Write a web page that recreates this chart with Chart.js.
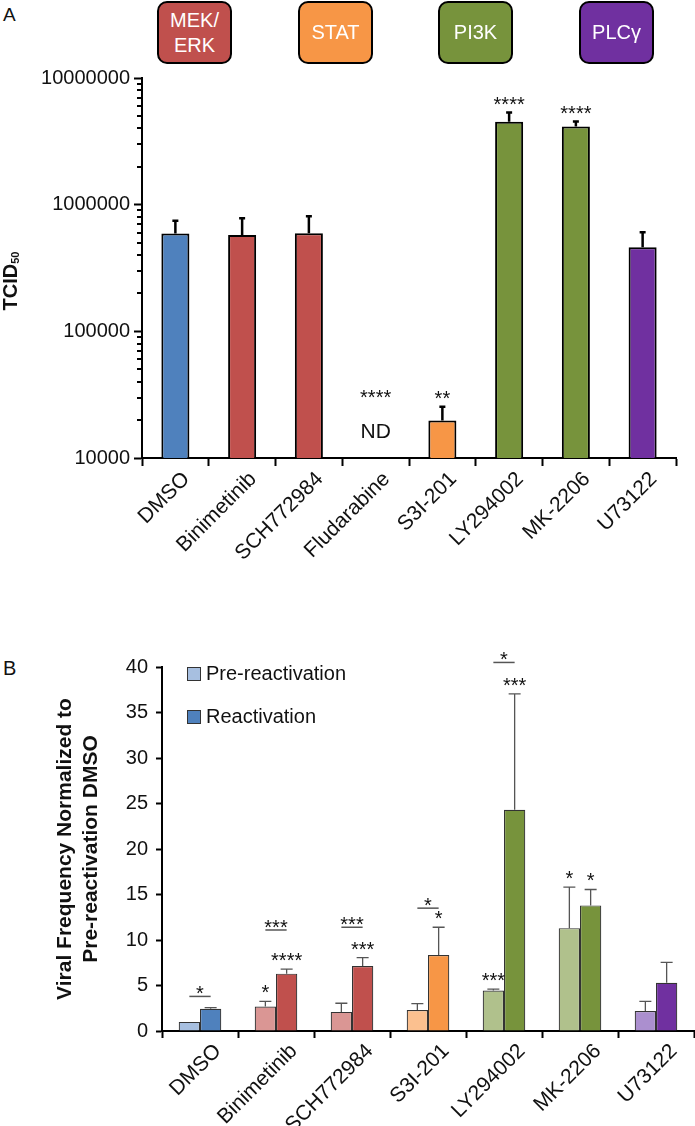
<!DOCTYPE html>
<html>
<head>
<meta charset="utf-8">
<script src="https://cdn.jsdelivr.net/npm/chart.js@4.4.1/dist/chart.umd.min.js"></script>
<style>
  body { margin: 0; background: #fff; font-family: "Liberation Sans", Arial, sans-serif; }
  #page { position: relative; width: 695px; height: 1126px; overflow: hidden; }
  #wrapA { position: absolute; left: 0; top: 0; }
  #wrapB { position: absolute; left: 0; top: 560px; }
  .panel { position: absolute; font-size: 19px; color: #111; }
  .box { position: absolute; top: 1px; width: 75px; height: 63px; box-sizing: border-box;
         border: 2.5px solid #000; border-radius: 10px; color: #fff; font-size: 20px;
         display: flex; align-items: center; justify-content: center; text-align: center; line-height: 25px; }
  .leg { position: absolute; left: 187px; font-size: 20px; color: #111; height: 14px; }
  .leg span.sw { position: absolute; left: 0; top: 0; width: 12px; height: 12px; border: 1px solid #333; }
  .leg span.tx { position: absolute; left: 19px; top: -5px; white-space: nowrap; }
</style>
</head>
<body>
<div id="page">
  <div class="panel" style="left:3px; top:4px;">A</div>
  <div class="panel" style="left:3px; top:657px; font-size:20px;">B</div>
  <div id="wrapA"><canvas id="chartA" width="695" height="560"></canvas></div>
  <div id="wrapB"><canvas id="chartB" width="695" height="566"></canvas></div>
  <div id="boxes"></div>
  <div id="legendB"></div>
</div>
<script>
// panel A data
var categoriesA = ['DMSO', 'Binimetinib', 'SCH772984', 'Fludarabine', 'S3I-201', 'LY294002', 'MK-2206', 'U73122'];
var tcid50 = [592000, 577000, 595000, null, 19800, 4510000, 4140000, 461000];
var tcid50Err = [156000, 203000, 214000, null, 5600, 820000, 390000, 144000];
var starsA = ['', '', '', '****', '**', '****', '****', ''];
var yTicksA = [10000, 100000, 1000000, 10000000];
var colorsA = ['#4f81bd', '#c0504d', '#c0504d', '#f79646', '#f79646', '#77933c', '#77933c', '#7030a0'];

var pathways = ['MEK/<br>ERK', 'STAT', 'PI3K', 'PLCγ'];
var pathwayColors = ['#c0504d', '#f79646', '#77933c', '#7030a0'];
var pathwayLeft = [157, 298, 438, 579];

// panel B data
var categoriesB = ['DMSO', 'Binimetinib', 'SCH772984', 'S3I-201', 'LY294002', 'MK-2206', 'U73122'];
var preReact = [1.0, 2.7, 2.1, 2.3, 4.45, 11.3, 2.2];
var preReactErr = [0, 0.55, 0.95, 0.7, 0.15, 4.5, 1.05];
var react = [2.45, 6.3, 7.15, 8.35, 24.3, 13.8, 5.3];
var reactErr = [0.12, 0.5, 0.92, 3.05, 12.75, 1.75, 2.25];
var preStars = ['', '*', '', '', '***', '*', ''];
var reactStars = ['', '****', '***', '*', '***', '*', ''];
var pairStars = ['*', '***', '***', '*', '*', '', ''];
var pairLevel = [3.8, 11.1, 11.4, 13.5, 40.5, null, null];
var yTicksB = [0, 5, 10, 15, 20, 25, 30, 35, 40];
var preColors = ['#a7bfe0', '#da9694', '#da9694', '#fbc08f', '#b0c18c', '#b0c18c', '#ab8fcf'];
var reactColors = ['#4f81bd', '#c0504d', '#c0504d', '#f79646', '#77933c', '#77933c', '#7030a0'];

var FONT = '"Liberation Sans", Arial, sans-serif';
Chart.defaults.font.family = FONT;
Chart.defaults.color = '#111';

// pathway boxes
var boxes = document.getElementById('boxes');
pathways.forEach(function (p, i) {
    var d = document.createElement('div');
    d.className = 'box';
    d.style.left = pathwayLeft[i] + 'px';
    d.style.background = pathwayColors[i];
    d.innerHTML = p;
    boxes.appendChild(d);
});

// legend B
var legendB = document.getElementById('legendB');
[['Pre-reactivation', preColors[0], 667], ['Reactivation', reactColors[0], 710]].forEach(function (l) {
    var d = document.createElement('div');
    d.className = 'leg';
    d.style.top = l[2] + 'px';
    d.innerHTML = '<span class="sw" style="background:' + l[1] + '"></span><span class="tx">' + l[0] + '</span>';
    legendB.appendChild(d);
});

function drawErrors(chart, dsIndex, errs, color, lw, cap) {
    var ctx = chart.ctx;
    var y = chart.scales.y;
    var meta = chart.getDatasetMeta(dsIndex);
    var vals = chart.data.datasets[dsIndex].data;
    ctx.save();
    ctx.strokeStyle = color;
    ctx.lineWidth = lw;
    meta.data.forEach(function (bar, i) {
        if (vals[i] == null || !errs[i]) return;
        var y0 = y.getPixelForValue(vals[i]);
        var y1 = y.getPixelForValue(vals[i] + errs[i]);
        ctx.beginPath();
        ctx.moveTo(bar.x, y0);
        ctx.lineTo(bar.x, y1);
        ctx.moveTo(bar.x - cap, y1);
        ctx.lineTo(bar.x + cap, y1);
        ctx.stroke();
    });
    ctx.restore();
}

function drawStars(chart, dsIndex, errs, stars) {
    var ctx = chart.ctx;
    var y = chart.scales.y;
    var meta = chart.getDatasetMeta(dsIndex);
    var vals = chart.data.datasets[dsIndex].data;
    ctx.save();
    ctx.font = '20px ' + FONT;
    ctx.fillStyle = '#111';
    ctx.textAlign = 'center';
    ctx.textBaseline = 'alphabetic';
    meta.data.forEach(function (bar, i) {
        if (!stars[i] || vals[i] == null) return;
        var yt = y.getPixelForValue(vals[i] + (errs[i] || 0));
        ctx.fillText(stars[i], bar.x, yt - 2);
    });
    ctx.restore();
}

var pluginA = {
    id: 'extrasA',
    afterDraw: function (chart) {
        var ctx = chart.ctx;
        var y = chart.scales.y;
        var x = chart.scales.x;
        var left = chart.chartArea.left;
        // minor ticks on log axis
        ctx.save();
        ctx.strokeStyle = '#000';
        ctx.lineWidth = 2;
        y.ticks.forEach(function (t) {
            if (yTicksA.indexOf(t.value) >= 0) return;
            var py = Math.round(y.getPixelForValue(t.value));
            ctx.beginPath();
            ctx.moveTo(left - 5, py);
            ctx.lineTo(left, py);
            ctx.stroke();
        });
        ctx.restore();
        drawErrors(chart, 0, tcid50Err, '#000', 2.5, 3);
        drawStars(chart, 0, tcid50Err, starsA);
        // ND category
        ctx.save();
        ctx.fillStyle = '#111';
        ctx.textAlign = 'center';
        tcid50.forEach(function (v, i) {
            if (v != null) return;
            var cx = x.getPixelForValue(i);
            ctx.font = '20px ' + FONT;
            ctx.fillText(starsA[i], cx, y.getPixelForValue(32000) + 10);
            ctx.font = '21px ' + FONT;
            ctx.textBaseline = 'middle';
            ctx.fillText('ND', cx, y.getPixelForValue(16000));
            ctx.textBaseline = 'alphabetic';
        });
        ctx.restore();
        // axis title TCID50
        ctx.save();
        ctx.translate(17, (chart.chartArea.top + chart.chartArea.bottom) / 2 + 13);
        ctx.rotate(-Math.PI / 2);
        ctx.fillStyle = '#111';
        ctx.font = 'bold 20px ' + FONT;
        var w1 = ctx.measureText('TCID').width;
        ctx.font = 'bold 11px ' + FONT;
        var w2 = ctx.measureText('50').width;
        var sx = -(w1 + w2) / 2;
        ctx.font = 'bold 20px ' + FONT;
        ctx.fillText('TCID', sx, 0);
        ctx.font = 'bold 11px ' + FONT;
        ctx.fillText('50', sx + w1, 2);
        ctx.restore();
    }
};

var chartA = new Chart(document.getElementById('chartA').getContext('2d'), {
    type: 'bar',
    data: {
        labels: categoriesA,
        datasets: [{
            data: tcid50,
            backgroundColor: colorsA,
            borderColor: '#000',
            borderWidth: 2,
            barPercentage: 0.42,
            categoryPercentage: 1
        }]
    },
    options: {
        responsive: false,
        animation: false,
        layout: { padding: { top: 78, right: 19, left: 0, bottom: 0 } },
        plugins: { legend: { display: false }, tooltip: { enabled: false } },
        scales: {
            x: {
                afterFit: function (s) { s.height = 102; },
                grid: { display: true, drawOnChartArea: false, tickLength: 8, tickWidth: 2, tickColor: '#000', offset: true },
                border: { display: true, color: '#000', width: 2 },
                ticks: { font: { size: 21 }, color: '#111', minRotation: 45, maxRotation: 45, autoSkip: false, padding: 1, labelOffset: 11 }
            },
            y: {
                type: 'logarithmic',
                min: 10000,
                max: 10000000,
                afterFit: function (s) { s.width = 142; },
                afterBuildTicks: function (s) {
                    var t = [];
                    for (var k = 0; k < yTicksA.length - 1; k++) {
                        for (var m = 1; m < 10; m++) t.push({ value: m * yTicksA[k] });
                    }
                    t.push({ value: yTicksA[yTicksA.length - 1] });
                    s.ticks = t;
                },
                grid: {
                    display: true, drawOnChartArea: false, tickLength: 8, tickWidth: 2,
                    tickColor: function (c) { return yTicksA.indexOf(c.tick.value) >= 0 ? '#000' : 'rgba(0,0,0,0)'; }
                },
                border: { display: true, color: '#000', width: 2 },
                ticks: {
                    autoSkip: false,
                    padding: 4,
                    font: { size: 20 },
                    color: '#111',
                    callback: function (v) { return yTicksA.indexOf(v) >= 0 ? String(v) : ''; }
                }
            }
        }
    },
    plugins: [pluginA]
});

var pluginB = {
    id: 'extrasB',
    afterDraw: function (chart) {
        var ctx = chart.ctx;
        var y = chart.scales.y;
        drawErrors(chart, 0, preReactErr, '#555', 1.3, 6);
        drawErrors(chart, 1, reactErr, '#555', 1.3, 6);
        drawStars(chart, 0, preReactErr, preStars);
        drawStars(chart, 1, reactErr, reactStars);
        var m0 = chart.getDatasetMeta(0);
        var m1 = chart.getDatasetMeta(1);
        ctx.save();
        ctx.strokeStyle = '#555';
        ctx.lineWidth = 1.5;
        ctx.fillStyle = '#111';
        ctx.font = '20px ' + FONT;
        ctx.textAlign = 'center';
        pairStars.forEach(function (s, i) {
            if (!s || pairLevel[i] == null) return;
            var py = y.getPixelForValue(pairLevel[i]);
            var xa = m0.data[i].x, xb = m1.data[i].x;
            ctx.beginPath();
            ctx.moveTo(xa, py);
            ctx.lineTo(xb, py);
            ctx.stroke();
            ctx.fillText(s, (xa + xb) / 2, py + 4);
        });
        ctx.restore();
    }
};

var chartB = new Chart(document.getElementById('chartB').getContext('2d'), {
    type: 'bar',
    data: {
        labels: categoriesB,
        datasets: [{
            label: 'Pre-reactivation',
            data: preReact,
            backgroundColor: preColors,
            borderColor: '#333',
            borderWidth: 1.2,
            barPercentage: 1,
            categoryPercentage: 0.56
        }, {
            label: 'Reactivation',
            data: react,
            backgroundColor: reactColors,
            borderColor: '#333',
            borderWidth: 1.2,
            barPercentage: 1,
            categoryPercentage: 0.56
        }]
    },
    options: {
        responsive: false,
        animation: false,
        layout: { padding: { top: 107, right: 1, left: 0, bottom: 0 } },
        plugins: { legend: { display: false }, tooltip: { enabled: false } },
        scales: {
            x: {
                afterFit: function (s) { s.height = 95; },
                grid: { display: true, drawOnChartArea: false, tickLength: 7, tickWidth: 2, tickColor: '#000', offset: true },
                border: { display: true, color: '#000', width: 2 },
                ticks: { font: { size: 21 }, color: '#111', minRotation: 45, maxRotation: 45, autoSkip: false, padding: 1, labelOffset: 18 }
            },
            y: {
                min: 0,
                max: 40,
                afterFit: function (s) { s.width = 162; },
                afterBuildTicks: function (s) {
                    s.ticks = yTicksB.map(function (v) { return { value: v }; });
                },
                grid: { display: true, drawOnChartArea: false, tickLength: 6, tickWidth: 2, tickColor: '#000' },
                border: { display: true, color: '#000', width: 2 },
                ticks: { autoSkip: false, padding: 8, font: { size: 20 }, color: '#111' },
                title: {
                    display: true,
                    text: ['Viral Frequency Normalized to', 'Pre-reactivation DMSO'],
                    font: { size: 21, weight: 'bold', lineHeight: 1.2 },
                    color: '#111',
                    padding: { top: 53, bottom: 0 }
                }
            }
        }
    },
    plugins: [pluginB]
});
</script>
</body>
</html>
